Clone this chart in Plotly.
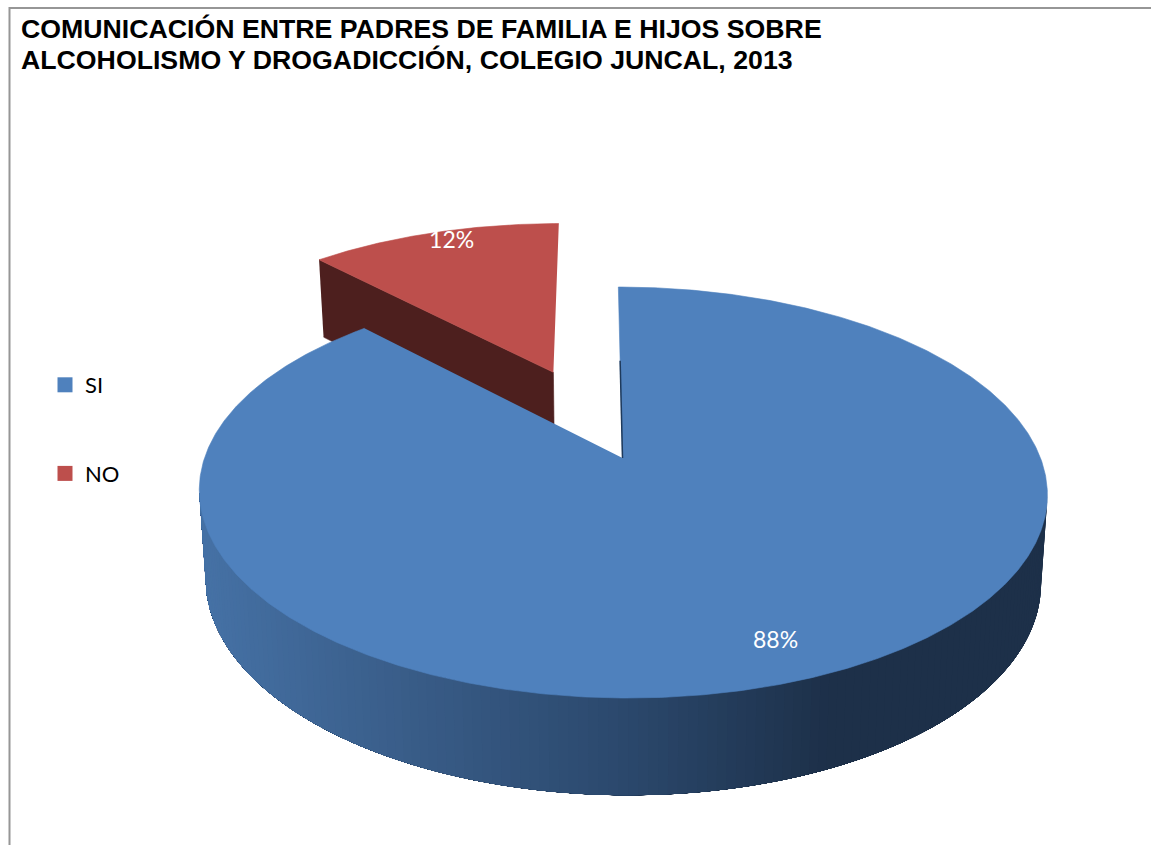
import numpy as np
import plotly.graph_objects as go

categories = ["SI", "NO"]
values = [88, 12]
labels = ["88%", "12%"]
title_lines = ["COMUNICACIÓN ENTRE PADRES DE FAMILIA E HIJOS SOBRE",
               "ALCOHOLISMO Y DROGADICCIÓN, COLEGIO JUNCAL, 2013"]

BLUE, RED, RED_DARK, BLUE_EDGE = "#4f81bd", "#bd4f4c", "#4d1f1e", "#1e3a5c"
U0, V0, BX, BY, K, SKEW = 622.5, 458.0, 418.0, 199.7, 0.168, 0.0243
DEPTH, DEPTH_K, LOWER_SCALE = 87.0, 0.105, 0.985


def project(x, y, lower=False, ox=0.0, oy=0.0):
    """Perspective view of a unit disc lying flat; returns page x, y."""
    x, y = np.asarray(x, float) + ox, np.asarray(y, float) + oy
    w = 1 + K * y
    v = V0 - BY * y / w
    u = BX * x / w
    if lower:
        return U0 + LOWER_SCALE * u + SKEW * (v - V0), v + DEPTH / (1 + DEPTH_K * y)
    return U0 + u + SKEW * (v - V0), v


def arc(a0, a1, n=240):
    t = np.radians(np.linspace(a0, a1, n))
    return np.sin(t), np.cos(t)


total = sum(values)
sweep_no = 360 * values[1] / total
split = 360 - sweep_no          # pie runs clockwise from the top: SI, then NO

EXPLODE, EXPLODE_DIR = 0.4935, -20.5
ox = EXPLODE * np.sin(np.radians(EXPLODE_DIR))
oy = EXPLODE * np.cos(np.radians(EXPLODE_DIR))

fig = go.Figure()


def poly(xs, ys, color, width=0.6):
    fig.add_trace(go.Scatter(x=xs, y=ys, mode="lines", fill="toself", fillcolor=color,
                             line=dict(color=color, width=width), showlegend=False,
                             hoverinfo="skip"))


# exploded NO slice: visible cut wall, then top face
ex, ey = arc(split, split, 1)
tx = np.array([ex[0], 0.0]); ty = np.array([ey[0], 0.0])
a, b = project(tx, ty, ox=ox, oy=oy)
c, d = project(tx, ty, lower=True, ox=ox, oy=oy)
poly(np.r_[a, c[::-1]], np.r_[b, d[::-1]], RED_DARK)

ax_, ay_ = arc(split, 360)
a, b = project(np.r_[0, ax_], np.r_[0, ay_], ox=ox, oy=oy)
poly(a, b, RED)

# SI slice: shaded front wall; each piece reaches to the far end and is painted over by the next
stops_u = [205, 400, 630, 830, 1045]
stops_r = [0x46, 0x3a, 0x2b, 0x1d, 0x1e]
stops_g = [0x72, 0x5e, 0x48, 0x30, 0x31]
stops_b = [0xa6, 0x8a, 0x6c, 0x49, 0x49]
sil = np.degrees(np.arccos(-K))
end = 360 - sil
edges = np.linspace(sil, end, 141)
for a0, a1 in zip(edges[:-1], edges[1:]):
    sx, sy = arc(a0, end, 160)
    a, b = project(sx, sy)
    c, d = project(sx, sy, lower=True)
    mx, my = arc(a0, a1, 3)
    m = float(np.mean(project(mx, my, lower=True)[0]))
    col = "rgb(%d,%d,%d)" % (np.interp(m, stops_u, stops_r), np.interp(m, stops_u, stops_g),
                             np.interp(m, stops_u, stops_b))
    poly(np.r_[a, c[::-1]], np.r_[b, d[::-1]], col, width=0)

# SI slice: top face
sx, sy = arc(0, split, 700)
a, b = project(np.r_[0, sx], np.r_[0, sy])
poly(a, b, BLUE)

# sliver of the SI cut wall along the start radius
a, b = project([0, 0], [0.53, 0])
fig.add_trace(go.Scatter(x=a, y=b, mode="lines", line=dict(color=BLUE_EDGE, width=1.5),
                         showlegend=False, hoverinfo="skip"))

# percentage labels
LABEL_R = [0.855, 0.915]
mid_si, mid_no = split / 2 + 0.5, split + sweep_no / 2 + 1.7
lx0, ly0 = project(LABEL_R[0] * np.sin(np.radians(mid_si)), LABEL_R[0] * np.cos(np.radians(mid_si)))
lx1, ly1 = project(LABEL_R[1] * np.sin(np.radians(mid_no)), LABEL_R[1] * np.cos(np.radians(mid_no)),
                   ox=ox, oy=oy)
fig.add_trace(go.Scatter(x=[lx0, lx1], y=[ly0, ly1], mode="text", text=labels,
                         textposition="middle center",
                         textfont=dict(family="Lato", size=23, color="white"),
                         showlegend=False, hoverinfo="skip"))

# legend entries
for name, color in zip(categories, [BLUE, RED]):
    fig.add_trace(go.Scatter(x=[None], y=[None], mode="markers", name=name, legendgroup=name,
                             marker=dict(symbol="square", size=15, color=color)))

fig.update_layout(
    width=1151, height=845, autosize=False,
    margin=dict(l=0, r=0, t=0, b=0),
    paper_bgcolor="white", plot_bgcolor="white",
    xaxis=dict(visible=False, range=[0, 1151], fixedrange=True),
    yaxis=dict(visible=False, range=[845, 0], fixedrange=True),
    annotations=[
        dict(text=line, x=19.5, y=yy, xref="x", yref="y", xanchor="left", yanchor="middle",
             showarrow=False, borderpad=0,
             font=dict(family="Liberation Sans", size=26.7, color="black", weight="bold"))
        for line, yy in zip(title_lines, [28.5, 59.5])
    ],
    legend=dict(x=45 / 1151, xanchor="left", y=1 - 364 / 845, yanchor="top",
                font=dict(family="Lato", size=22, color="black"),
                tracegroupgap=57, bgcolor="rgba(0,0,0,0)", itemclick=False, itemdoubleclick=False),
    shapes=[dict(type="path", xref="x", yref="y", path="M 9.5 845 L 9.5 8 L 1151 8",
                 line=dict(color="#969696", width=2))],
)

fig.write_html("out.html", config={"displayModeBar": False},
               post_script="document.body.style.margin='0';document.body.style.overflow='hidden';")
